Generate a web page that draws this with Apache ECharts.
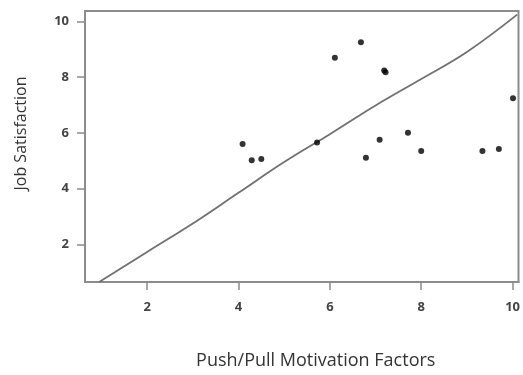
<!DOCTYPE html>
<html>
<head>
<meta charset="utf-8">
<script src="https://cdn.jsdelivr.net/npm/echarts@6/dist/echarts.min.js"></script>
<style>html,body{margin:0;padding:0;background:#fff}#c{width:523px;height:375px}</style>
</head>
<body>
<div id="c"></div>
<script>
// Scatter data (Push/Pull Motivation Factors vs Job Satisfaction)
var pointsX = [6.68, 6.11, 7.19, 7.22, 10.01, 4.09, 5.72, 7.09, 7.71, 4.29, 4.50, 6.79, 8.00, 9.34, 9.70];
var pointsY = [9.25, 8.69, 8.24, 8.17, 7.24, 5.60, 5.65, 5.75, 6.00, 5.02, 5.06, 5.11, 5.35, 5.35, 5.42];
// Fitted curve
var curveX = [0.95, 2, 3, 4, 5, 6, 7, 8, 9, 10.1];
var curveY = [0.65, 1.73, 2.75, 3.85, 4.95, 5.95, 6.98, 7.93, 8.9, 10.24];
// Ticks
var xTicks = [2, 4, 6, 8, 10];
var yTicks = [2, 4, 6, 8, 10];

var scatterData = pointsX.map(function (x, i) { return [x, pointsY[i]]; });
var curveData = curveX.map(function (x, i) { return [x, curveY[i]]; });

var chart = echarts.init(document.getElementById('c'), null, {renderer: 'canvas'});
var labelStyle = {color: '#444', fontSize: 13, fontWeight: 'bold', fontFamily: 'Open Sans'};
chart.setOption({
  animation: false,
  backgroundColor: '#fff',
  grid: {left: 85, top: 11, right: 4, bottom: 90, show: true, borderColor: '#8c8c8c', borderWidth: 2},
  xAxis: {
    type: 'value', min: 0.64, max: 10.13,
    splitLine: {show: false},
    axisLine: {show: true, lineStyle: {color: '#8c8c8c', width: 2}},
    axisTick: {show: true, customValues: xTicks, length: 8, lineStyle: {color: '#8c8c8c', width: 1.5}},
    axisLabel: Object.assign({customValues: xTicks, margin: 19}, labelStyle),
    name: 'Push/Pull Motivation Factors', nameLocation: 'middle', nameGap: 70,
    nameTextStyle: {color: '#333', fontSize: 18, fontFamily: 'Open Sans', padding: [0, 0, 0, 28]}
  },
  yAxis: {
    type: 'value', min: 0.65, max: 10.37,
    splitLine: {show: false},
    axisLine: {show: true, lineStyle: {color: '#8c8c8c', width: 2}},
    axisTick: {show: true, customValues: yTicks, length: 8, lineStyle: {color: '#8c8c8c', width: 1.5}},
    axisLabel: Object.assign({customValues: yTicks, margin: 16}, labelStyle),
    name: 'Job Satisfaction', nameLocation: 'middle', nameGap: 56,
    nameTextStyle: {color: '#333', fontSize: 16, fontFamily: 'Open Sans', padding: [0, 0, 0, 26]}
  },
  series: [
    {type: 'line', data: curveData, smooth: 0.4, showSymbol: false, symbol: 'none',
     lineStyle: {color: '#707070', width: 1.8}, z: 2},
    {type: 'scatter', data: scatterData, symbolSize: 6, itemStyle: {color: '#000'}, z: 3}
  ]
});
</script>
</body>
</html>
